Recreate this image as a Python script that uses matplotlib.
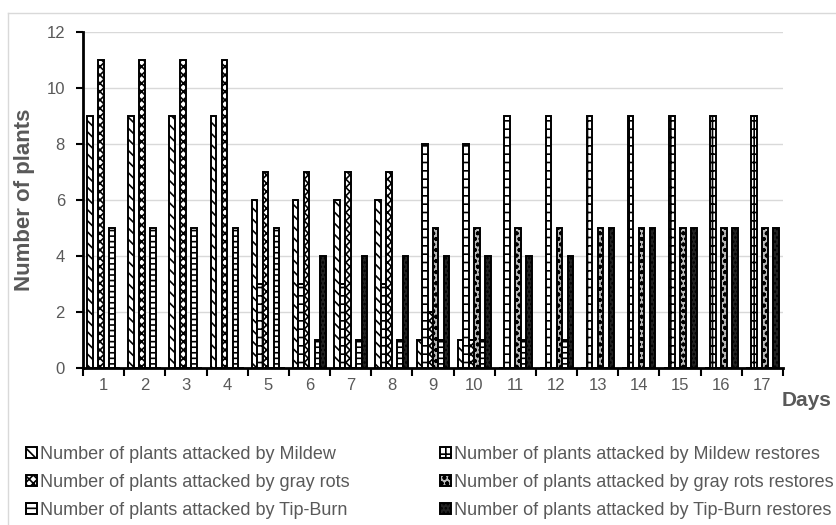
import matplotlib
matplotlib.use("Agg")
import matplotlib.pyplot as plt
import numpy as np
from matplotlib.lines import Line2D

days = [str(d) for d in range(1, 18)]
mildew =            [9, 9, 9, 9, 6, 6, 6, 6, 1, 1, 0, 0, 0, 0, 0, 0, 0]
mildew_restores =   [0, 0, 0, 0, 3, 3, 3, 3, 8, 8, 9, 9, 9, 9, 9, 9, 9]
gray_rots =         [11, 11, 11, 11, 7, 7, 7, 7, 2, 1, 0, 0, 0, 0, 0, 0, 0]
gray_restores =     [0, 0, 0, 0, 0, 0, 0, 0, 5, 5, 5, 5, 5, 5, 5, 5, 5]
tipburn =           [5, 5, 5, 5, 5, 1, 1, 1, 1, 1, 1, 1, 0, 0, 0, 0, 0]
tipburn_restores =  [0, 0, 0, 0, 0, 4, 4, 4, 4, 4, 4, 4, 5, 5, 5, 5, 5]
labels = ["Number of plants attacked by Mildew",
          "Number of plants attacked by Mildew restores",
          "Number of plants attacked by gray rots",
          "Number of plants attacked by gray rots restores",
          "Number of plants attacked by Tip-Burn",
          "Number of plants attacked by Tip-Burn restores"]
series = [mildew, mildew_restores, gray_rots, gray_restores, tipburn, tipburn_restores]

styles = [
    dict(facecolor="white", hatch="\\\\\\"),
    dict(facecolor="white", hatch="++"),
    dict(facecolor="white", hatch="xxxx"),
    dict(facecolor="#bbbbbb", hatch="ooo"),
    dict(facecolor="white", hatch="---"),
    dict(facecolor="#222222", hatch="...."),
]

plt.rcParams['font.family'] = ['Liberation Sans', 'DejaVu Sans']
plt.rcParams['hatch.linewidth'] = 1.2
TXT = "#595959"

fig = plt.figure(figsize=(8.37, 5.25), dpi=100)
ax = fig.add_axes([83/837, 1-368/525, 700/837, 336/525])

x = np.arange(len(days))
n = len(series)
w = 0.8 / n
handles = []
for i, (vals, st) in enumerate(zip(series, styles)):
    offs = (i - (n - 1) / 2) * w
    b = ax.bar(x + offs, vals, width=w, edgecolor="black", linewidth=1.4,
               label=labels[i], zorder=3, **st)
    handles.append(b)

ax.set_xlim(-0.5, len(days) - 0.5)
ax.set_ylim(0, 12)
ax.set_yticks(np.arange(0, 13, 2))
ax.yaxis.grid(True, color="#d9d9d9", linewidth=1, zorder=0)
ax.set_axisbelow(True)
ax.set_xticks(np.arange(-0.5, len(days) + 0.5, 1))
ax.set_xticklabels([])
ax.set_xticks(x, minor=True)
ax.set_xticklabels(days, minor=True)
ax.tick_params(axis="x", which="major", length=6, width=1.5, direction="out", color="black")
ax.tick_params(axis="x", which="minor", length=0, labelsize=12, pad=7, colors=TXT)
ax.tick_params(axis="y", length=5, width=1.5, color="black", labelsize=12, labelcolor=TXT, pad=8)
for s in ["top", "right"]:
    ax.spines[s].set_visible(False)
ax.spines["left"].set_linewidth(2)
ax.spines["bottom"].set_linewidth(2)
ax.set_ylabel("Number of plants", fontsize=16, fontweight="bold", color=TXT, labelpad=8)
fig.text(782/837, 1-401/525, "Days", fontsize=15, fontweight="bold", color=TXT,
         ha="left", va="center")

col1 = [0, 2, 4]
col2 = [1, 3, 5]
for cols, xa in ((col1, 26), (col2, 440)):
    fig.legend([handles[i] for i in cols], [labels[i] for i in cols],
               ncol=1, loc="upper left", bbox_to_anchor=(xa/837, 1-446/525),
               frameon=False, fontsize=13, handlelength=0.6, handleheight=0.6,
               handletextpad=0.15, labelspacing=0.6, borderpad=0, borderaxespad=0,
               labelcolor=TXT)

# light gray frame around chart area
fig.add_artist(Line2D([8/837, 8/837], [0, 1-13/525], transform=fig.transFigure,
                      color="#d9d9d9", linewidth=1))
fig.add_artist(Line2D([8/837, 1], [1-13/525, 1-13/525], transform=fig.transFigure,
                      color="#d9d9d9", linewidth=1))
fig.savefig("out.png", dpi=100)
